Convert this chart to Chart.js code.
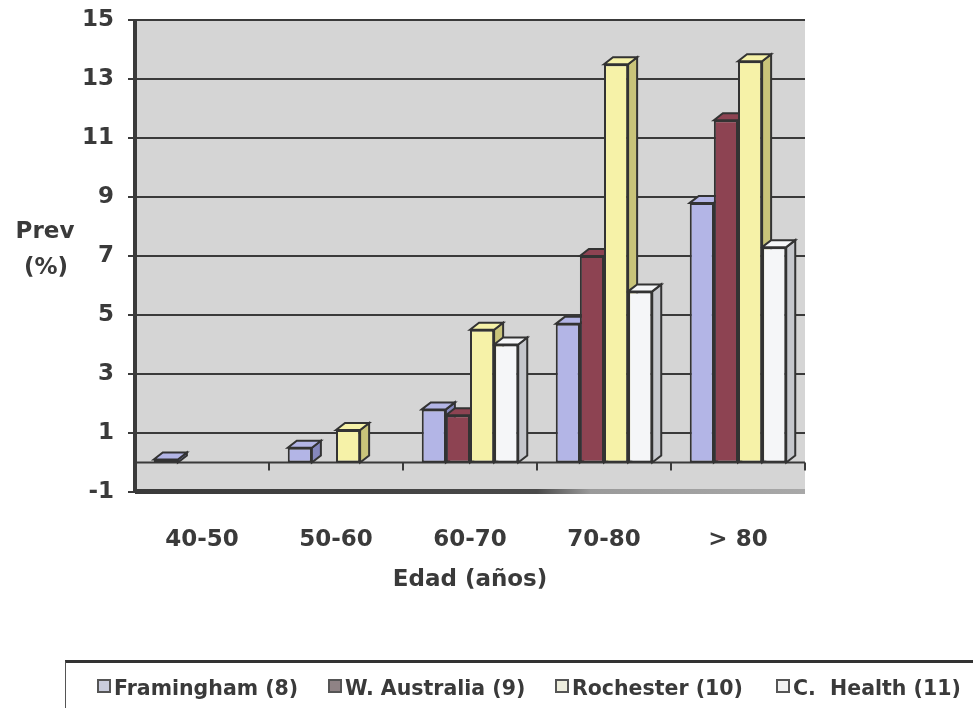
<!DOCTYPE html>
<html>
<head>
<meta charset="utf-8">
<script src="https://cdn.jsdelivr.net/npm/chart.js@4.4.1/dist/chart.umd.min.js"></script>
<style>
  html, body { margin: 0; padding: 0; background: #ffffff; }
  #wrap { position: relative; width: 973px; height: 708px; overflow: hidden; }
  #c { position: absolute; left: 0; top: 0; }
  #legend {
    position: absolute; left: 65px; top: 660px; width: 920px; height: 60px;
    border-left: 1px solid #555; border-top: 3px solid #333;
    font-family: "DejaVu Sans", sans-serif; font-weight: bold;
    font-size: 20.5px; color: #3a3a3a; box-sizing: border-box;
  }
  #legend .item { position: absolute; top: 13px; white-space: nowrap; }
  #legend .box {
    display: inline-block; width: 10px; height: 10px; border: 2px solid #555;
    margin-right: 3px; vertical-align: 2px;
  }
</style>
</head>
<body>
<div id="wrap">
  <canvas id="c" width="973" height="708"></canvas>
  <div id="legend"></div>
</div>
<script>
// Age groups
const categories = ['40-50', '50-60', '60-70', '70-80', '> 80'];

// Prevalence (%) by study
const framingham  = [0.1, 0.5, 1.8, 4.7, 8.8];
const wAustralia  = [0.0, 0.0, 1.6, 7.0, 11.6];
const rochester   = [0.0, 1.1, 4.5, 13.5, 13.6];
const cHealth     = [0.0, 0.0, 4.0, 5.8, 7.3];

const seriesNames = ['Framingham (8)', 'W. Australia (9)', 'Rochester (10)', 'C.  Health (11)'];
const yTicks = [-1, 1, 3, 5, 7, 9, 11, 13, 15];

const fronts = ['#b3b5e6', '#8d4352', '#f6f2a8', '#f5f6f8'];
const sides  = ['#8587bd', '#5e2733', '#c9c47a', '#c5c7cc'];
const legendMarks = ['#c9ccdc', '#8f8385', '#eeeede', '#f2f2f2'];

const FONT = '"DejaVu Sans", sans-serif';
const INK = '#3a3a3a';
const DX = 9, DY = 7;

// Grey back wall, baseline at zero, column depth and heavy floor edge
const wallPlugin = {
  id: 'wall',
  beforeDraw(chart) {
    const { ctx, chartArea: a } = chart;
    ctx.save();
    ctx.fillStyle = '#d5d5d5';
    ctx.fillRect(a.left, a.top, a.right - a.left, a.bottom - a.top);
    ctx.restore();
  },
  beforeDatasetsDraw(chart) {
    const { ctx, chartArea: a, scales } = chart;
    const y0 = scales.y.getPixelForValue(0);
    ctx.save();
    ctx.strokeStyle = INK;
    ctx.lineWidth = 2;
    ctx.beginPath();
    ctx.moveTo(a.left, y0); ctx.lineTo(a.right, y0);
    ctx.stroke();
    // small ticks under the baseline between categories
    const xs = scales.x;
    for (let i = 0; i <= categories.length; i++) {
      const x = xs.getPixelForValue(i - 0.5);
      ctx.beginPath(); ctx.moveTo(x, y0); ctx.lineTo(x, y0 + 8); ctx.stroke();
    }
    // depth faces of the columns (drawn behind the front faces)
    chart.data.datasets.forEach((ds, di) => {
      const meta = chart.getDatasetMeta(di);
      meta.data.forEach((bar, bi) => {
        if (!ds.data[bi]) return;
        const p = bar.getProps(['x', 'y', 'base', 'width'], true);
        const l = p.x - p.width / 2, r = p.x + p.width / 2;
        const top = Math.min(p.y, p.base), bot = Math.max(p.y, p.base);
        ctx.lineWidth = 2;
        ctx.strokeStyle = '#333';
        ctx.fillStyle = sides[di];
        ctx.beginPath();
        ctx.moveTo(r, top); ctx.lineTo(r + DX, top - DY);
        ctx.lineTo(r + DX, bot - DY); ctx.lineTo(r, bot);
        ctx.closePath(); ctx.fill(); ctx.stroke();
        ctx.fillStyle = fronts[di];
        ctx.beginPath();
        ctx.moveTo(l, top); ctx.lineTo(l + DX, top - DY);
        ctx.lineTo(r + DX, top - DY); ctx.lineTo(r, top);
        ctx.closePath(); ctx.fill(); ctx.stroke();
      });
    });
    ctx.restore();
  },
  afterDraw(chart) {
    const { ctx, chartArea: a } = chart;
    ctx.save();
    // floor edge
    const g = ctx.createLinearGradient(a.left, 0, a.right, 0);
    g.addColorStop(0, '#3a3a3a'); g.addColorStop(0.6, '#4a4a4a'); g.addColorStop(0.68, '#9a9a9a'); g.addColorStop(1, '#a8a8a8');
    ctx.fillStyle = g;
    ctx.fillRect(a.left, a.bottom - 3, a.right - a.left, 5);
    // left wall edge
    ctx.fillStyle = INK;
    ctx.fillRect(a.left - 2, a.top, 4, a.bottom - a.top);
    // vertical axis caption
    ctx.fillStyle = INK;
    ctx.font = 'bold 23px ' + FONT;
    ctx.textAlign = 'center';
    ctx.textBaseline = 'middle';
    ctx.fillText('Prev', 45, 232);
    ctx.fillText('(%)', 46, 268);
    ctx.restore();
  }
};

const datasets = [framingham, wAustralia, rochester, cHealth].map((vals, i) => ({
  label: seriesNames[i],
  data: vals,
  backgroundColor: fronts[i],
  borderColor: '#333',
  borderWidth: 2,
  borderSkipped: false,
  categoryPercentage: 0.72,
  barPercentage: 1.0
}));

new Chart(document.getElementById('c'), {
  type: 'bar',
  data: { labels: categories, datasets },
  plugins: [wallPlugin],
  options: {
    responsive: false,
    animation: false,
    events: [],
    layout: { padding: { left: 0, right: 168, top: 20, bottom: 110 } },
    plugins: { legend: { display: false }, tooltip: { enabled: false } },
    scales: {
      x: {
        grid: { display: false },
        border: { display: false },
        ticks: { color: INK, font: { family: FONT, size: 23, weight: 'bold' }, padding: 26 },
        title: { display: true, text: 'Edad (años)', color: INK, font: { family: FONT, size: 23, weight: 'bold' }, padding: { top: 11 } },
        afterFit(s) { s.height = 106; s.paddingLeft = 0; s.paddingRight = 0; }
      },
      y: {
        min: -1, max: 15,
        afterBuildTicks(s) { s.ticks = yTicks.map(v => ({ value: v })); },
        grid: { color: INK, lineWidth: 2, tickLength: 7, drawOnChartArea: true },
        border: { display: false },
        ticks: { color: INK, font: { family: FONT, size: 23, weight: 'bold' }, padding: 14 },
        afterFit(s) { s.width = 135; s.paddingTop = 0; s.paddingBottom = 0; }
      }
    }
  }
});

// Legend strip built from the series
const lg = document.getElementById('legend');
const lefts = [31, 262, 489, 710];
seriesNames.forEach((n, i) => {
  const d = document.createElement('span');
  d.className = 'item';
  d.style.left = lefts[i] + 'px';
  d.innerHTML = '<span class="box" style="background:' + legendMarks[i] + '"></span>' + n.replace(/ {2}/g, '&nbsp; ');
  lg.appendChild(d);
});
</script>
</body>
</html>
